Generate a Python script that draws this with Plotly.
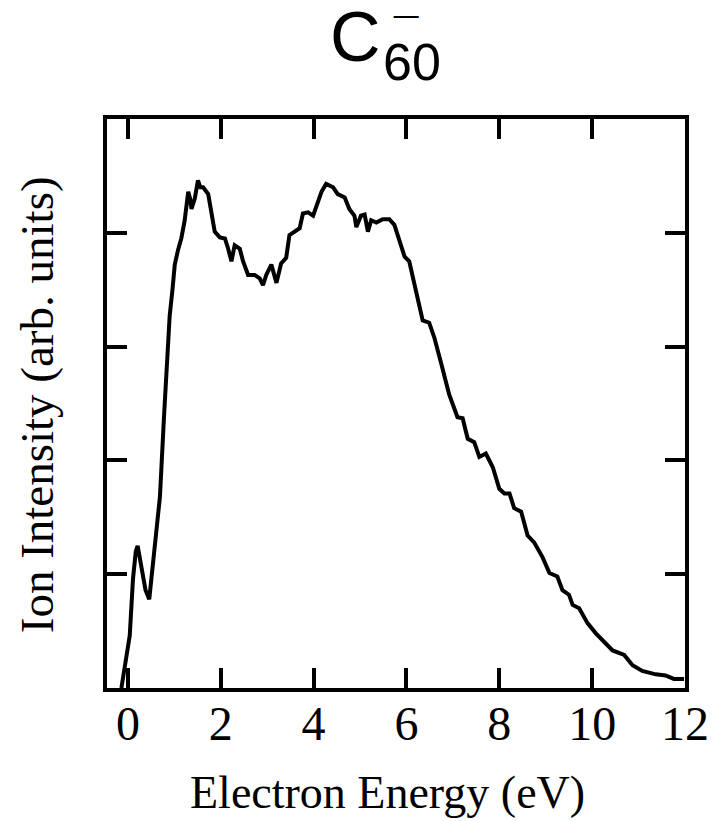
import plotly.graph_objects as go

# Electron energy (eV) and ion intensity (arb. units)
energy = [-0.14, 0.04, 0.11, 0.17, 0.21, 0.30, 0.38, 0.46, 0.54, 0.61, 0.69, 0.78, 0.86, 0.90,
          0.96, 1.01, 1.08, 1.15, 1.22, 1.26, 1.30, 1.34, 1.37, 1.44, 1.51, 1.56, 1.62, 1.73,
          1.80, 1.87, 1.98, 2.09, 2.16, 2.23, 2.30, 2.41, 2.48, 2.59, 2.73, 2.84, 2.91, 2.98,
          3.09, 3.20, 3.30, 3.41, 3.48, 3.59, 3.70, 3.77, 3.88, 3.99, 4.09, 4.17, 4.27, 4.42,
          4.52, 4.67, 4.77, 4.88, 4.92, 5.02, 5.10, 5.17, 5.24, 5.35, 5.49, 5.63, 5.74, 5.85,
          5.96, 6.06, 6.17, 6.28, 6.35, 6.49, 6.60, 6.75, 6.92, 7.10, 7.21, 7.32, 7.46, 7.57,
          7.71, 7.86, 8.00, 8.11, 8.22, 8.32, 8.47, 8.61, 8.75, 8.93, 9.08, 9.25, 9.36, 9.50,
          9.58, 9.72, 9.90, 10.08, 10.29, 10.44, 10.69, 10.87, 11.08, 11.37, 11.58, 11.76, 11.98]
intensity = [0.00, 0.46, 0.96, 1.20, 1.25, 1.05, 0.86, 0.78, 1.10, 1.39, 1.68, 2.40, 3.05, 3.27,
             3.50, 3.72, 3.85, 3.95, 4.10, 4.21, 4.36, 4.30, 4.21, 4.30, 4.46, 4.40, 4.40, 4.34,
             4.18, 4.01, 3.96, 3.95, 3.86, 3.75, 3.89, 3.86, 3.75, 3.63, 3.63, 3.60, 3.54, 3.63,
             3.72, 3.56, 3.73, 3.78, 3.98, 4.01, 4.04, 4.17, 4.18, 4.15, 4.27, 4.36, 4.43, 4.40,
             4.34, 4.31, 4.21, 4.15, 4.05, 4.15, 4.16, 4.01, 4.11, 4.09, 4.12, 4.12, 4.07, 3.92,
             3.79, 3.75, 3.54, 3.36, 3.23, 3.21, 3.08, 2.85, 2.58, 2.38, 2.37, 2.19, 2.16, 2.03,
             2.06, 1.94, 1.75, 1.71, 1.71, 1.58, 1.55, 1.34, 1.28, 1.15, 1.01, 0.98, 0.86, 0.82,
             0.73, 0.70, 0.57, 0.48, 0.39, 0.33, 0.29, 0.20, 0.15, 0.12, 0.11, 0.08, 0.08]

x_ticks = [0, 2, 4, 6, 8, 10, 12]
x_tick_labels = ["0", "2", "4", "6", "8", "10", "12"]
y_ticks = [1, 2, 3, 4]

serif = "Liberation Serif, Times New Roman, serif"
sans = "Liberation Sans, Arial, sans-serif"

fig = go.Figure()
fig.add_trace(go.Scatter(x=energy, y=intensity, mode="lines",
                         line=dict(color="black", width=4), showlegend=False,
                         hoverinfo="skip"))

fig.update_layout(
    width=718, height=813,
    margin=dict(l=99, r=41, t=111, b=133),
    paper_bgcolor="white", plot_bgcolor="white",
    xaxis=dict(range=[-0.45, 12], tickvals=x_ticks, ticktext=x_tick_labels,
               ticks="inside", ticklen=20, tickwidth=4, tickcolor="black",
               showline=True, linewidth=4, linecolor="black", mirror="ticks",
               showgrid=False, zeroline=False, ticklabelstandoff=-10,
               tickfont=dict(family=serif, size=48, color="black")),
    yaxis=dict(range=[0, 5], tickvals=y_ticks, showticklabels=False,
               ticks="inside", ticklen=20, tickwidth=4, tickcolor="black",
               showline=True, linewidth=4, linecolor="black", mirror="ticks",
               showgrid=False, zeroline=False),
    annotations=[
        dict(text="Electron Energy (eV)", xref="paper", yref="paper",
             x=0.486, y=-0.1845, xanchor="center", yanchor="middle", showarrow=False,
             font=dict(family=serif, size=46, color="black")),
        dict(text="Ion Intensity (arb. units)", xref="paper", yref="paper",
             x=-0.121, y=0.497, xanchor="center", yanchor="middle", showarrow=False,
             textangle=-90, font=dict(family=serif, size=47, color="black")),
        dict(text="C", xref="paper", yref="paper",
             x=0.3824, y=1.0728, xanchor="left", yanchor="bottom", showarrow=False,
             font=dict(family=sans, size=70, color="black")),
        dict(text="60", xref="paper", yref="paper",
             x=0.4740, y=1.0455, xanchor="left", yanchor="bottom", showarrow=False,
             font=dict(family=sans, size=52, color="black")),
        dict(text="<b>¯</b>", xref="paper", yref="paper",
             x=0.517, y=1.1951, xanchor="center", yanchor="top", showarrow=False,
             font=dict(family=sans, size=44, color="black")),
    ],
)

fig.write_html("out.html")
